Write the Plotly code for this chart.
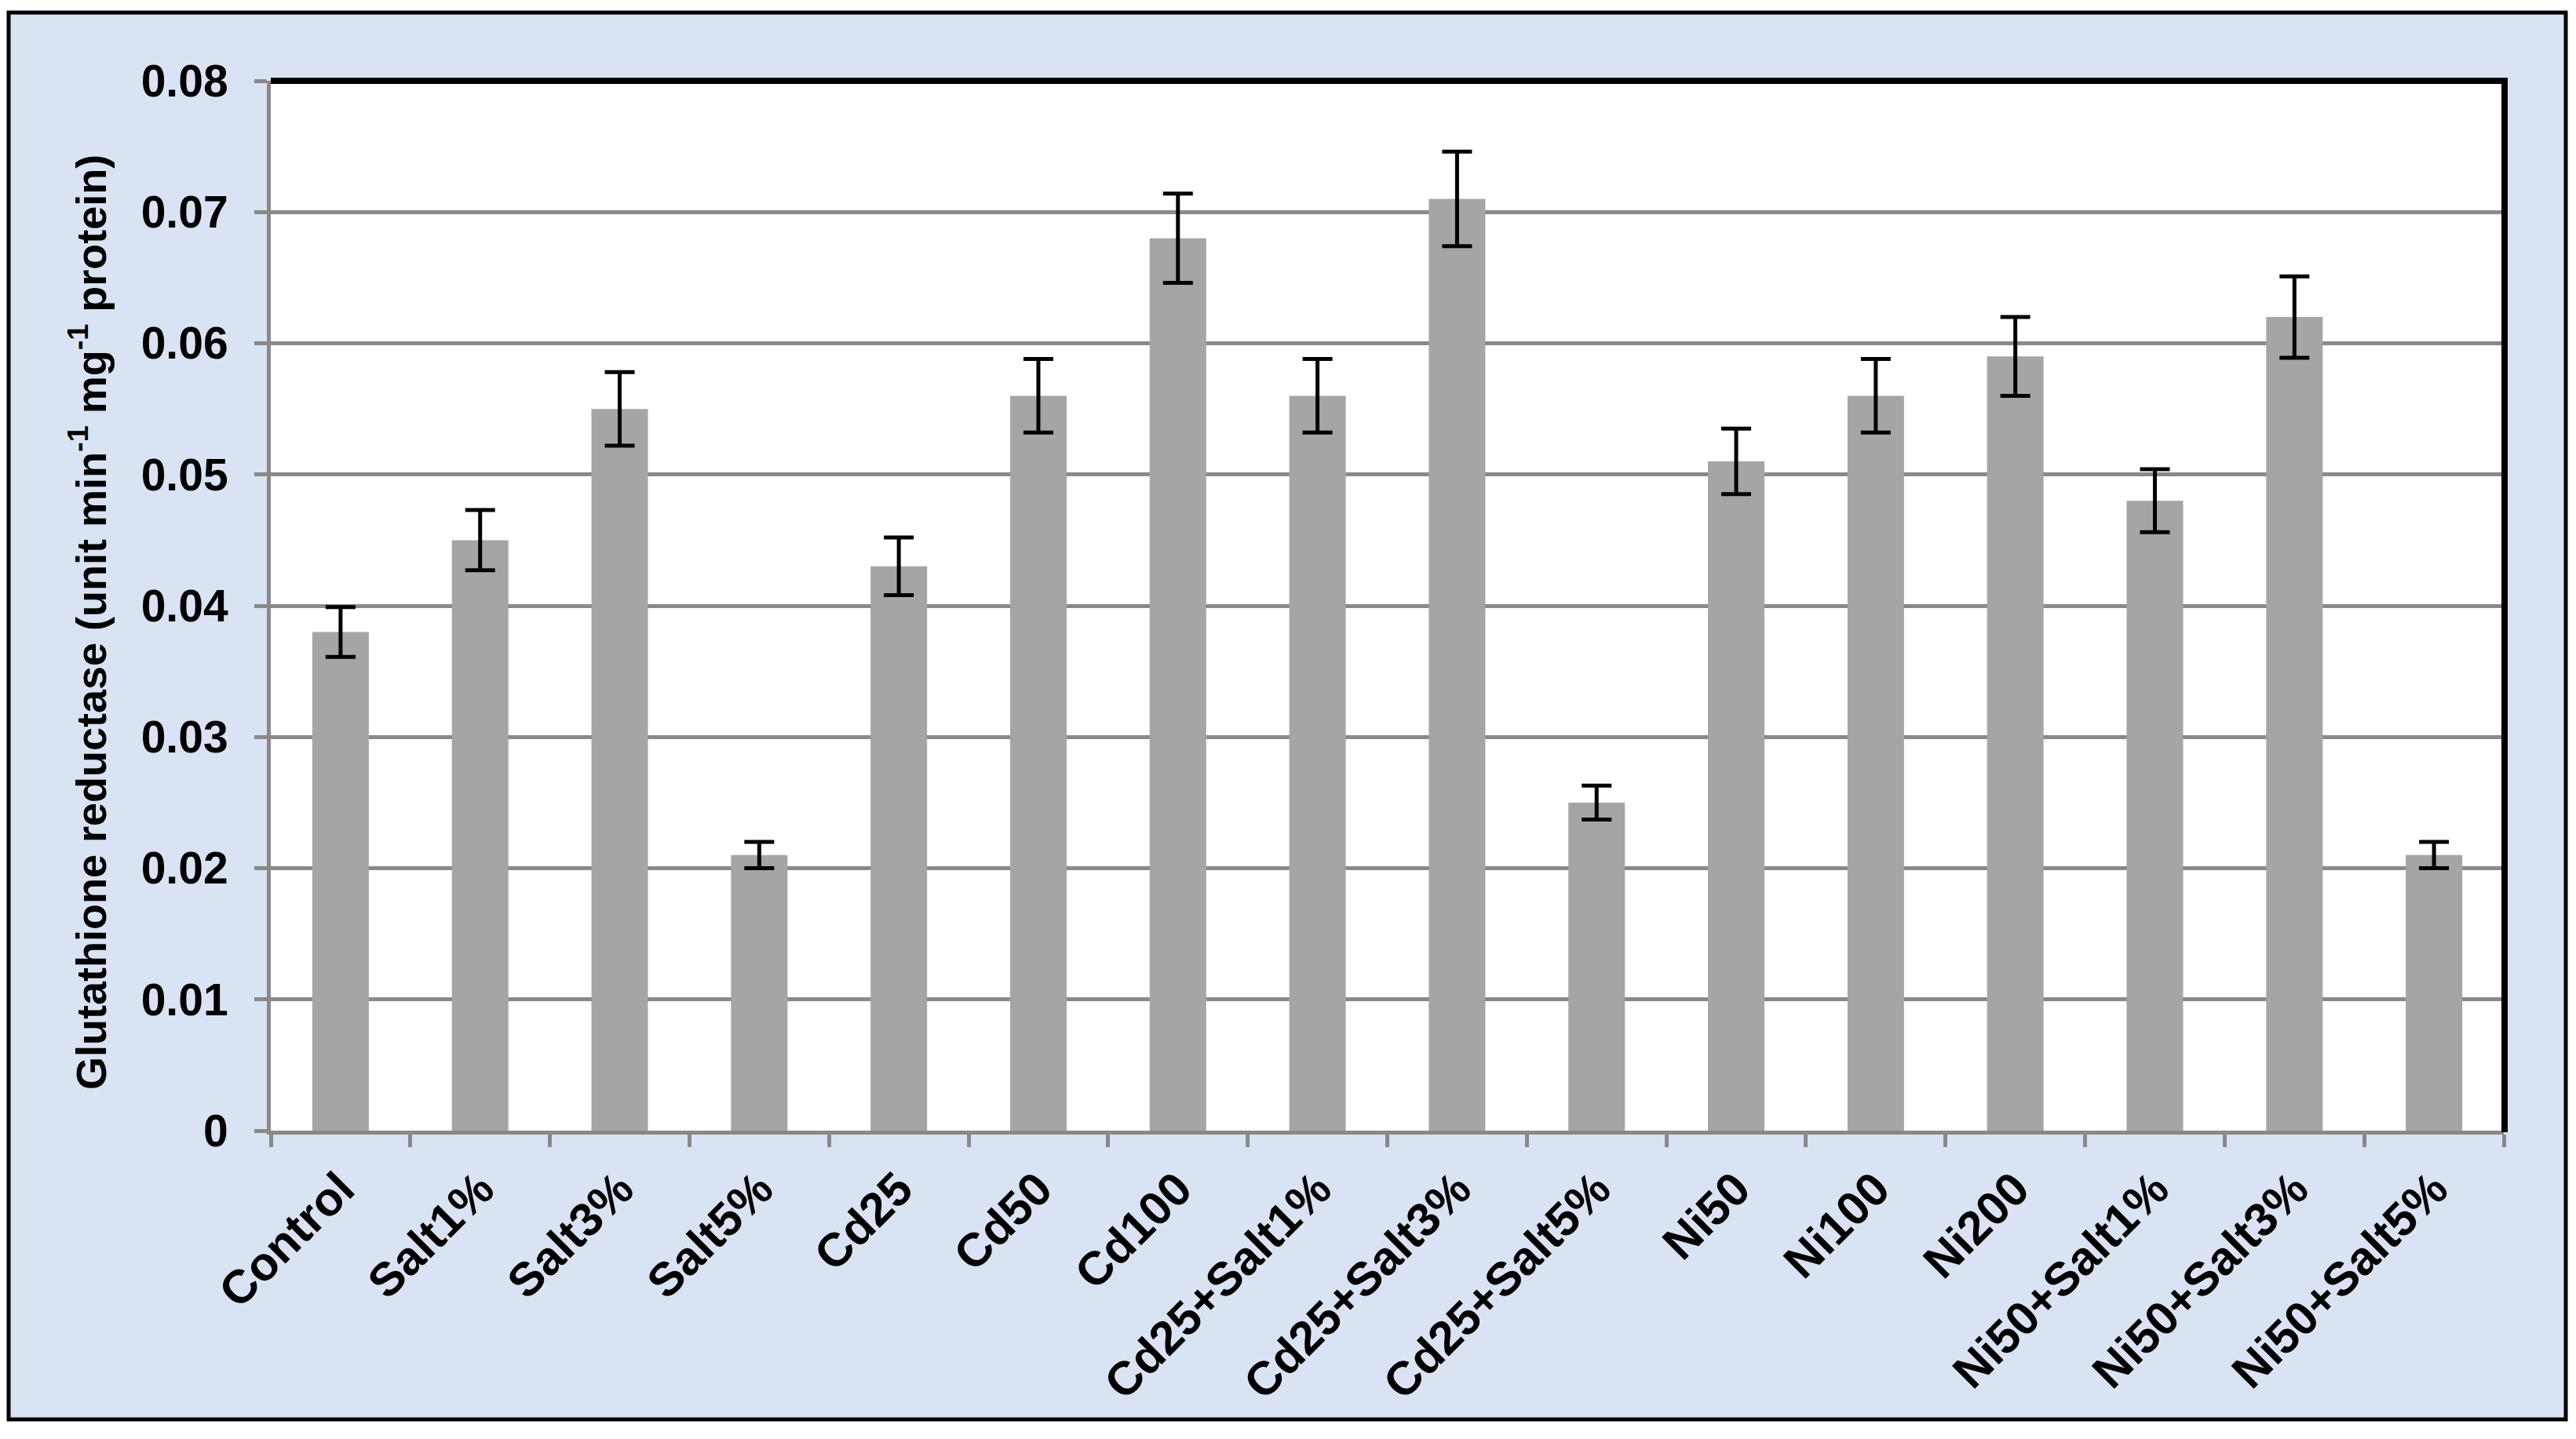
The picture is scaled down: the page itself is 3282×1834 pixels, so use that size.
import plotly.graph_objects as go

categories = ["Control", "Salt1%", "Salt3%", "Salt5%", "Cd25", "Cd50", "Cd100",
              "Cd25+Salt1%", "Cd25+Salt3%", "Cd25+Salt5%", "Ni50", "Ni100", "Ni200",
              "Ni50+Salt1%", "Ni50+Salt3%", "Ni50+Salt5%"]
gr_values = [0.038, 0.045, 0.055, 0.021, 0.043, 0.056, 0.068, 0.056, 0.071, 0.025,
             0.051, 0.056, 0.059, 0.048, 0.062, 0.021]
gr_errors = [0.0019, 0.0023, 0.0028, 0.001, 0.0022, 0.0028, 0.0034, 0.0028, 0.0036,
             0.0013, 0.0025, 0.0028, 0.003, 0.0024, 0.0031, 0.001]
y_tickvals = [0, 0.01, 0.02, 0.03, 0.04, 0.05, 0.06, 0.07, 0.08]
y_ticktext = ["0", "0.01", "0.02", "0.03", "0.04", "0.05", "0.06", "0.07", "0.08"]
y_title = "<b>Glutathione reductase (unit min<sup>-1</sup> mg<sup>-1</sup> protein)</b>"

# page body has an 8px margin; figure coordinates are page coordinates minus 8
OFF = 8
W, H = 3282 - 2 * OFF, 1834 - 2 * OFF
L, R, T, B = 345 - OFF, 3190 - OFF, 103 - OFF, 1441 - OFF
FONT = "Liberation Sans, Arial, sans-serif"
GRAY = "#898989"

def px(x):
    return (x - OFF - L) / (R - L)

def py(y):
    return (B - (y - OFF)) / (B - T)

fig = go.Figure()
fig.add_trace(go.Bar(
    x=categories, y=gr_values,
    marker=dict(color="#a5a5a5", line=dict(width=0)),
    error_y=dict(type="data", array=gr_errors, visible=True,
                 color="black", thickness=5, width=19),
))

shapes = [
    # outer chart background with border (page coords)
    dict(type="rect", xref="paper", yref="paper", layer="below",
         x0=px(11), x1=px(3269), y0=py(1809), y1=py(16),
         fillcolor="#dae3f3", line=dict(color="black", width=5)),
    # plot area white
    dict(type="rect", xref="paper", yref="paper", layer="below",
         x0=0, x1=1, y0=0, y1=1, fillcolor="white", line=dict(width=0)),
    # top and right thick black frame
    dict(type="line", xref="paper", yref="paper", layer="above",
         x0=0, x1=px(3194), y0=1, y1=1, line=dict(color="black", width=8)),
    dict(type="line", xref="paper", yref="paper", layer="above",
         x0=px(3191), x1=px(3191), y0=py(1443), y1=py(99), line=dict(color="black", width=8)),
]

fig.update_layout(
    width=W, height=H,
    margin=dict(l=L, r=W - R, t=T, b=H - B, autoexpand=False),
    paper_bgcolor="white", plot_bgcolor="white",
    showlegend=False,
    bargap=0.595,
    font=dict(family=FONT, size=56, color="black"),
    shapes=shapes,
    annotations=[dict(
        text=y_title, textangle=-90, showarrow=False,
        xref="paper", yref="paper", x=px(112), y=py(793),
        xanchor="center", yanchor="middle",
        font=dict(family=FONT, size=54, color="black"),
    )],
)

fig.update_xaxes(
    type="category",
    tickson="boundaries", ticks="outside", ticklen=16, tickwidth=5, tickcolor=GRAY,
    showline=True, linecolor=GRAY, linewidth=5,
    showgrid=False, tickangle=-45,
    tickfont=dict(family=FONT, size=60, color="black", weight="bold"),
    ticklabelstandoff=10,
)

fig.update_yaxes(
    range=[0, 0.08],
    tickvals=y_tickvals, ticktext=y_ticktext,
    ticks="outside", ticklen=16, tickwidth=5, tickcolor=GRAY,
    showline=True, linecolor=GRAY, linewidth=5,
    showgrid=True, gridcolor=GRAY, gridwidth=5,
    zeroline=False,
    tickfont=dict(family=FONT, size=57, color="black", weight="bold"),
    ticklabelstandoff=22,
)

fig.write_html("out.html")
